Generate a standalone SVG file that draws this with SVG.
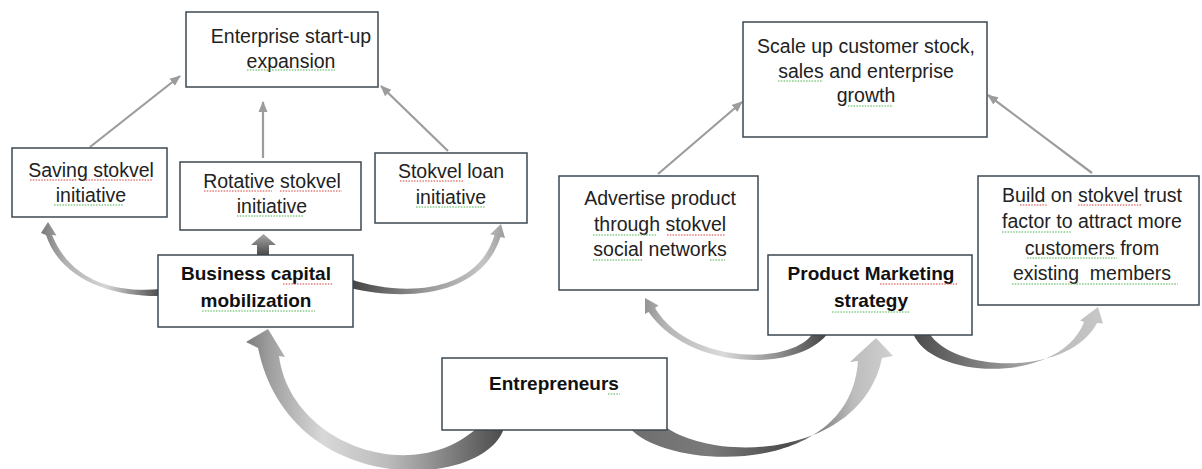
<svg xmlns="http://www.w3.org/2000/svg" width="1202" height="469" viewBox="0 0 1202 469">
  <style>
    .box { fill: #ffffff; stroke: #3e4852; stroke-width: 1.5; }
    .t { font-family: "Liberation Sans", Arial, sans-serif; font-size: 19.5px; fill: #222222; text-anchor: middle; }
    .b { font-family: "Liberation Sans", Arial, sans-serif; font-size: 19px; font-weight: bold; fill: #111111; text-anchor: middle; }
    .link { stroke: #9c9c9c; stroke-width: 2.2; fill: none; marker-end: url(#head); }
    .sq { fill: none; stroke-width: 1.4; stroke-dasharray: 1.5 1.3; }
    .sr { stroke: #d9534f; opacity: 0.75; }
    .sg { stroke: #5cb85c; opacity: 0.75; }
  </style>
  <defs>
    <marker id="head" markerWidth="11" markerHeight="10" refX="10" refY="5" orient="auto" markerUnits="userSpaceOnUse">
      <path d="M0,0.5 L11,5 L0,9.5 Z" fill="#9c9c9c"/>
    </marker>
    <linearGradient id="g1" gradientUnits="userSpaceOnUse" x1="158" y1="0" x2="42" y2="0">
      <stop offset="0" stop-color="#505050"/>
      <stop offset="0.45" stop-color="#d6d6d6"/>
      <stop offset="0.8" stop-color="#b0b0b0"/>
      <stop offset="1" stop-color="#7a7a7a"/>
    </linearGradient>
    <linearGradient id="g2" gradientUnits="userSpaceOnUse" x1="0" y1="256" x2="0" y2="234">
      <stop offset="0" stop-color="#454545"/>
      <stop offset="1" stop-color="#a8a8a8"/>
    </linearGradient>
    <linearGradient id="g3" gradientUnits="userSpaceOnUse" x1="353" y1="0" x2="506" y2="0">
      <stop offset="0" stop-color="#454545"/>
      <stop offset="0.5" stop-color="#9c9c9c"/>
      <stop offset="0.85" stop-color="#c4c4c4"/>
      <stop offset="1" stop-color="#9a9a9a"/>
    </linearGradient>
    <linearGradient id="g4" gradientUnits="userSpaceOnUse" x1="505" y1="0" x2="245" y2="0">
      <stop offset="0" stop-color="#4a4a4a"/>
      <stop offset="0.15" stop-color="#707070"/>
      <stop offset="0.45" stop-color="#bcbcbc"/>
      <stop offset="0.7" stop-color="#d8d8d8"/>
      <stop offset="0.9" stop-color="#a0a0a0"/>
      <stop offset="1" stop-color="#7a7a7a"/>
    </linearGradient>
    <linearGradient id="g5" gradientUnits="userSpaceOnUse" x1="630" y1="0" x2="893" y2="0">
      <stop offset="0" stop-color="#6e6e6e"/>
      <stop offset="0.3" stop-color="#7a7a7a"/>
      <stop offset="0.6" stop-color="#4c4c4c"/>
      <stop offset="0.85" stop-color="#bdbdbd"/>
      <stop offset="1" stop-color="#d0d0d0"/>
    </linearGradient>
    <linearGradient id="g6" gradientUnits="userSpaceOnUse" x1="830" y1="0" x2="636" y2="0">
      <stop offset="0" stop-color="#3f3f3f"/>
      <stop offset="0.25" stop-color="#8a8a8a"/>
      <stop offset="0.55" stop-color="#dadada"/>
      <stop offset="0.85" stop-color="#b4b4b4"/>
      <stop offset="1" stop-color="#858585"/>
    </linearGradient>
    <linearGradient id="g7" gradientUnits="userSpaceOnUse" x1="912" y1="0" x2="1105" y2="0">
      <stop offset="0" stop-color="#4a4a4a"/>
      <stop offset="0.4" stop-color="#868686"/>
      <stop offset="0.75" stop-color="#bcbcbc"/>
      <stop offset="1" stop-color="#c8c8c8"/>
    </linearGradient>
  </defs>

  <rect width="1202" height="469" fill="#ffffff"/>

  <!-- connectors: thin links and curved block arrows -->
  <g id="connectors">
    <line class="link" x1="90" y1="147" x2="180" y2="76"/>
    <line class="link" x1="263" y1="158" x2="263" y2="102"/>
    <line class="link" x1="448" y1="151" x2="381" y2="86"/>
    <line class="link" x1="658" y1="174" x2="742" y2="102"/>
    <line class="link" x1="1092" y1="173" x2="988" y2="95"/>

    <path fill="url(#g1)" d="M161,289 C120,293 72,284 52,235 L56.5,235.5 L48,222 L41,233 L46,235 C62,283 118,297 161,296 Z"/>
    <path fill="url(#g2)" d="M257,258 V245 H251 L263.5,234 L276,245 H269 V258 Z"/>
    <path fill="url(#g3)" d="M350,279 C402,297 477,294 494.5,235 L490,234.5 L501,224 L505,238 L500.5,237 C480,300 400,300 350,288 Z"/>
    <path fill="url(#g4)" d="M504,428 C485,490 290,500 258,348 L246,342 L268,329 L285,357 L279,356 C290,442 410,488 477,428 Z"/>
    <path fill="url(#g5)" d="M630,428 C665,470 850,480 858,361 L850,362 L876,338 L893,356 L882,358 C862,455 722,464 667,428 Z"/>
    <path fill="url(#g6)" d="M828,333 C800,372 690,372 648.6,312 L645,314 L645,298 L658.5,305.5 L655,308 C688,364 792,366 813,333 Z"/>
    <path fill="url(#g7)" d="M913,333 C930,380 1060,385 1084,322 L1080,320.5 L1098,307 L1103,323.5 L1097,323 C1070,376 955,374 929,333 Z"/>
  </g>

  <g id="n-enterprise">
    <rect class="box" x="186" y="12" width="192" height="75"/>
    <text class="t" x="291" y="43">Enterprise start-up</text>
    <text class="t" x="291" y="68">expansion</text>
    <path class="sq sg" d="M247,70 H335"/>
  </g>

  <g id="n-saving">
    <rect class="box" x="12" y="148" width="155" height="69"/>
    <text class="t" x="91" y="177">Saving stokvel</text>
    <text class="t" x="91" y="202">initiative</text>
    <path class="sq sr" d="M30,180 H77 M83,180 H153"/>
    <path class="sq sg" d="M54,205 H123"/>
  </g>

  <g id="n-rotative">
    <rect class="box" x="180" y="162" width="181" height="68"/>
    <text class="t" x="272" y="188">Rotative stokvel</text>
    <text class="t" x="272" y="213">initiative</text>
    <path class="sq sr" d="M204,191 H272 M280,191 H342"/>
    <path class="sq sg" d="M237,216 H304"/>
  </g>

  <g id="n-loan">
    <rect class="box" x="375" y="153" width="152" height="70"/>
    <text class="t" x="451" y="178">Stokvel loan</text>
    <text class="t" x="451" y="204">initiative</text>
    <path class="sq sr" d="M400,181 H463"/>
    <path class="sq sg" d="M416,207 H485"/>
  </g>

  <g id="n-capital">
    <rect class="box" x="158" y="255" width="195" height="72"/>
    <text class="b" x="256" y="280">Business capital</text>
    <text class="b" x="256" y="307">mobilization</text>
    <path class="sq sr" d="M283,284 H333"/>
    <path class="sq sg" d="M202,311 H315"/>
  </g>

  <g id="n-entrepreneurs">
    <rect class="box" x="442" y="358" width="225" height="72"/>
    <text class="b" x="554" y="390">Entrepreneurs</text>
    <path class="sq sg" d="M608,394 H620"/>
  </g>

  <g id="n-scale">
    <rect class="box" x="743" y="22" width="244" height="115"/>
    <text class="t" x="866" y="53">Scale up customer stock,</text>
    <text class="t" x="866" y="78">sales and enterprise</text>
    <text class="t" x="866" y="102">growth</text>
    <path class="sq sg" d="M778,81 H823"/>
    <path class="sq sg" d="M848,106 H893"/>
  </g>

  <g id="n-advertise">
    <rect class="box" x="559" y="176" width="199" height="114"/>
    <text class="t" x="660" y="205">Advertise product</text>
    <text class="t" x="660" y="231">through stokvel</text>
    <text class="t" x="660" y="256">social networks</text>
    <path class="sq sg" d="M593,235 H657"/>
    <path class="sq sr" d="M667,235 H725"/>
    <path class="sq sg" d="M593,260 H643 M710,260 H725"/>
  </g>

  <g id="n-marketing">
    <rect class="box" x="768" y="255" width="204" height="80"/>
    <text class="b" x="871" y="280">Product Marketing</text>
    <text class="b" x="871" y="307">strategy</text>
    <path class="sq sr" d="M880,284 H957"/>
    <path class="sq sg" d="M832,312 H910"/>
  </g>

  <g id="n-build">
    <rect class="box" x="978" y="176" width="221" height="129"/>
    <text class="t" x="1092" y="202">Build on stokvel trust</text>
    <text class="t" x="1092" y="228">factor to attract more</text>
    <text class="t" x="1092" y="255">customers from</text>
    <text class="t" x="1092" y="280" xml:space="preserve">existing  members</text>
    <path class="sq sr" d="M1020,205 H1047 M1078,205 H1142"/>
    <path class="sq sg" d="M1002,232 H1072"/>
    <path class="sq sg" d="M1027,258 H1117"/>
    <path class="sq sg" d="M1012,284 H1178"/>
  </g>
</svg>
